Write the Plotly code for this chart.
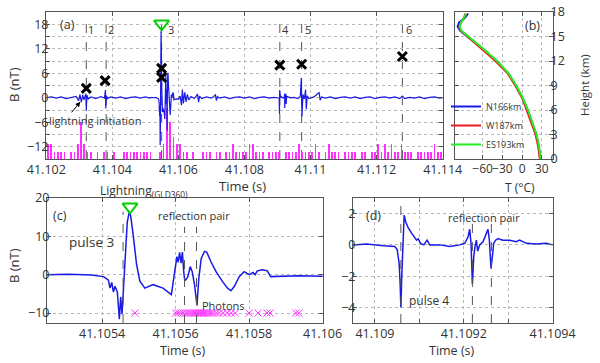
import plotly.graph_objects as go

# ---------------- data ----------------
# panel (a) waveform pieces (time s, B nT)
segA_t = [41.10200, 41.10215, 41.10230, 41.10245, 41.10260, 41.10275, 41.10290, 41.10298, 41.10302, 41.10306,
          41.10310, 41.10314, 41.10317, 41.10320, 41.10321, 41.10323, 41.10327, 41.10335, 41.10350, 41.10365,
          41.10376, 41.10379, 41.10380, 41.10382, 41.10385, 41.10395, 41.10410, 41.10425, 41.10440, 41.10455,
          41.10470, 41.10485, 41.10500, 41.10512, 41.10520]
segA_b = [0.0, 0.2, -0.1, 0.2, -0.2, 0.1, 0.3, -0.7, 0.8, -1.1,
          0.7, -0.5, 0.4, 1.0, -3.2, 0.6, -0.3, 0.2, -0.2, 0.3,
          -0.1, 1.9, -2.6, 0.5, -0.2, 0.2, -0.1, 0.2, -0.2, 0.1,
          0.2, -0.1, 0.2, -0.1, 0.1]

# panel (c) waveform (pulse 3)
c_t = [41.10525, 41.10531, 41.10537, 41.105395, 41.105404, 41.105417, 41.1054216, 41.1054262, 41.1054305, 41.1054351,
       41.1054414, 41.1054468, 41.1054505, 41.1054541, 41.1054576, 41.1054622, 41.1054684, 41.1054738, 41.1054776, 41.1054846,
       41.1054938, 41.1055027, 41.1055162, 41.1055386, 41.1055657, 41.1055884, 41.1055973, 41.1056035, 41.1056068, 41.1056108,
       41.1056149, 41.1056184, 41.1056222, 41.1056249, 41.1056289, 41.1056332, 41.1056397, 41.1056451, 41.1056514, 41.1056581,
       41.105663, 41.1056695, 41.1056784, 41.1056846, 41.1056965, 41.10571, 41.1057278, 41.1057414, 41.1057505, 41.1057595,
       41.105773, 41.1057865, 41.1058, 41.1058108, 41.1058162, 41.1058224, 41.1058359, 41.1058495, 41.1058586, 41.105881,
       41.105935, 41.106]
c_b = [0.0, 0.1, -0.1, -0.3, -0.5, -1.4, -3.5, -2.0, -4.5, -3.0,
       -4.5, -11.6, -5.8, -10.3, -4.5, 4.3, 13.7, 16.3, 15.4, 10.3,
       2.6, -1.7, -3.5, -2.6, -3.5, -5.2, 0.9, 4.7, 3.2, 5.8,
       3.0, 5.9, 0.5, -1.6, -1.2, -0.5, 2.1, 0.8, -2.6, -8.0,
       -1.1, 4.2, 6.1, 5.9, 3.3, 0.8, -1.8, -3.5, -4.2, -3.1,
       -0.5, 0.8, 0.0, 0.6, 0.0, 1.0, 1.3, 1.0, -0.5, -0.4,
       -0.3, -0.4]

segB_t = [41.10605, 41.10609, 41.10612, 41.10615, 41.10619, 41.10623, 41.10627, 41.10631, 41.10638, 41.10648,
          41.10658, 41.10661, 41.10664, 41.10670, 41.10685, 41.10700, 41.10712, 41.10715, 41.10718, 41.10724,
          41.10740, 41.10755, 41.10770, 41.10785, 41.10800, 41.10815, 41.10830, 41.10845, 41.10860, 41.10875,
          41.10888]
segB_b = [0.4, -1.8, 2.0, -1.4, 1.3, -1.0, 0.8, -0.5, 0.3, -0.2,
          0.9, -1.1, 0.4, -0.2, 0.2, -0.1, 0.7, -0.7, 0.3, -0.1,
          0.2, -0.2, 0.1, 0.2, -0.1, 0.2, -0.2, 0.1, 0.2, -0.1,
          0.1]

# panel (d) waveform (pulse 4)
d_t = [41.1089506, 41.1089813, 41.1090187, 41.1090449, 41.1090501, 41.1090546, 41.1090568, 41.1090584, 41.1090607, 41.1090629,
       41.1090658, 41.109069, 41.1090748, 41.1090825, 41.1090899, 41.1090937, 41.1090973, 41.1091027, 41.1091101, 41.1091175,
       41.1091236, 41.1091461, 41.1091685, 41.109191, 41.1092022, 41.1092096, 41.1092135, 41.1092164, 41.1092195, 41.1092225,
       41.1092254, 41.1092285, 41.1092314, 41.1092359, 41.1092434, 41.109251, 41.1092546, 41.1092577, 41.1092613, 41.1092645,
       41.1092674, 41.1092719, 41.1092771, 41.1092883, 41.1093033, 41.1093184, 41.1093258, 41.1093409, 41.1093633, 41.1093858,
       41.1094]
d_b = [0.0, 0.06, -0.06, -0.1, -0.3, -1.2, -2.5, -4.0, -1.8, 0.5,
       1.9, 1.5, 1.1, 0.75, 0.5, 0.3, 0.4, 0.1, 0.0, 0.3,
       0.0, 0.0, -0.1, 0.0, 0.1, 0.5, 1.0, 0.1, -2.5, -0.75,
       -0.1, 0.3, -0.4, 0.0, 0.2, 0.75, 1.0, 0.3, -1.5, -0.75,
       0.1, 0.3, 0.4, 0.3, 0.3, 0.2, 0.3, 0.1, 0.05, 0.1,
       0.0]

segC_t = [41.10950, 41.10962, 41.10969, 41.10972, 41.10974, 41.10977, 41.10981, 41.10985, 41.10987, 41.10990,
          41.10995, 41.11010, 41.11026, 41.11029, 41.11033, 41.11045, 41.11060, 41.11075, 41.11090, 41.11105,
          41.11120, 41.11135, 41.11150, 41.11165, 41.11180, 41.11195, 41.11210, 41.11225, 41.11240, 41.11255,
          41.11270, 41.11278, 41.11285, 41.11300, 41.11315, 41.11330, 41.11345, 41.11360, 41.11375, 41.11390,
          41.11400]
segC_b = [0.1, -0.2, 0.4, 4.8, -4.6, 0.8, -0.3, 2.0, -2.8, 0.5,
          -0.2, 0.2, 1.3, -0.6, 0.2, -0.1, 0.2, -0.2, 0.1, 0.2,
          -0.1, 0.2, -0.2, 0.1, 0.2, -0.2, 0.1, 0.2, -0.1, 0.2,
          -0.2, 0.4, -0.2, 0.1, -0.1, 0.2, -0.2, 0.1, 0.2, -0.1,
          0.0]

# photon counts in 0.1 ms bins from 41.102 s (panel a)
photon_bin_start = 41.102
photon_bin_width = 0.0001
photon_counts = [2, 2, 1, 1, 1, 1, 0, 1, 1, 2,
                 5, 2, 1, 1, 0, 1, 0, 1, 1, 0,
                 1, 0, 0, 1, 1, 1, 1, 1, 1, 1,
                 1, 1, 0, 0, 1, 2, 7, 5, 3, 2,
                 2, 1, 1, 0, 1, 0, 0, 1, 1, 1,
                 0, 1, 1, 0, 1, 1, 2, 1, 1, 1,
                 1, 2, 2, 1, 1, 1, 0, 1, 1, 1,
                 1, 0, 1, 1, 1, 1, 2, 1, 1, 1,
                 1, 2, 1, 0, 1, 2, 1, 1, 1, 0,
                 1, 1, 1, 1, 0, 1, 1, 0, 1, 1,
                 2, 1, 2, 1, 2, 1, 1, 2, 1, 1,
                 1, 0, 1, 1, 1, 1, 1, 2, 1, 1]

# pulses (panel a)
pulse_times = [41.10321, 41.10381, 41.10549, 41.10907, 41.10973, 41.11278]
pulse_labels = ["1", "2", "3", "4", "5", "6"]
xmark_t = [41.10321, 41.10378, 41.10549, 41.10549, 41.10907, 41.10973, 41.11278]
xmark_b = [2.3, 4.2, 7.2, 5.0, 8.0, 8.2, 10.1]
gld_a_t, gld_a_b = [41.10549], [18.1]

# panel (c) extras
gld_c_t, gld_c_b = [41.105476], [17.7]
lightning_c_t = 41.105457
reflect_c_t = [41.1056243, 41.1056568]
photon_c_t = [41.1054892, 41.1056, 41.1056068, 41.1056135, 41.1056203, 41.105627, 41.1056324, 41.1056378,
              41.1056432, 41.1056486, 41.1056527, 41.1056568, 41.1056608, 41.1056649, 41.1056689, 41.105673,
              41.105677, 41.1056811, 41.1056865, 41.1056919, 41.1056973, 41.1057027, 41.1057108, 41.1057189,
              41.1057297, 41.1057405, 41.1057514, 41.1057622, 41.1058, 41.1058243, 41.1058486, 41.1058568,
              41.105927, 41.1059351]
photon_c_level = -10

# panel (d) extras
pulse4_t = 41.1090584
reflect_d_t = [41.1092195, 41.1092622]

# panel (b) temperature profiles
temp_h = [0, 1.5, 3, 4.5, 6, 7.5, 9, 10.5, 12, 13.5, 14.5, 15.2, 15.7, 16.2, 16.7, 17.2, 17.8]
t_n166 = [27.5, 25.5, 21.5, 15, 8.5, 0.5, -9.5, -21, -39, -60, -75, -86, -94, -98, -96, -88, -82]
t_w187 = [27, 24.5, 20.5, 14, 7.5, 0, -10.5, -22, -40.5, -61.5, -76, -87, -93, -95.5, -93, -89, -86]
t_es193 = [28, 26, 22, 15.5, 9, 1, -9, -20.5, -38, -59, -74, -85, -92, -95, -93, -89, -85]

# ticks
a_xticks = [41.102, 41.104, 41.106, 41.108, 41.110, 41.112, 41.114]
a_xlabels = ["41.102", "41.104", "41.106", "41.108", "41.11", "41.112", "41.114"]
a_yticks = [-12, -6, 0, 6, 12, 18]
a_ylabels = ["\u221212", "\u22126", "0", "6", "12", "18"]
a_yminor = [-9, -3, 3, 9, 15]
b_xticks = [-60, -30, 0, 30]
b_xlabels = ["\u221260", "\u221230", "0", "30"]
b_yticks = [0, 3, 6, 9, 12, 15, 18]
c_xticks = [41.1054, 41.1056, 41.1058, 41.106]
c_xlabels = ["41.1054", "41.1056", "41.1058", "41.106"]
c_yticks = [-10, 0, 10, 20]
c_ylabels = ["\u221210", "0", "10", "20"]
d_xticks = [41.109, 41.1092, 41.1094]
d_xlabels = ["41.109", "41.1092", "41.1094"]
d_xminor = [41.1091, 41.1093]
d_yticks = [-4, -2, 0, 2]
d_ylabels = ["\u22124", "\u22122", "0", "2"]

# ---------------- figure ----------------
W, H = 600, 363
def PX(x):
    return x / W
def PY(y):
    return 1 - y / H

FONT = "Open Sans"
TXT = "#333333"
BLUE = "#1a1ae6"
MAG = "#ff30ff"
GREEN = "#00d000"

fig = go.Figure()

# (a) photons histogram
bin_centers = [photon_bin_start + (i + 0.5) * photon_bin_width for i in range(len(photon_counts))]
stem_scale = 1.8
fig.add_trace(go.Bar(x=bin_centers, y=[c * stem_scale for c in photon_counts], base=-15,
                     width=0.000022, marker=dict(color=MAG, line=dict(width=0)),
                     xaxis="x", yaxis="y", showlegend=False, hoverinfo="skip"))
a_t = segA_t + c_t + segB_t + d_t + segC_t
a_b = segA_b + c_b + segB_b + d_b + segC_b
fig.add_trace(go.Scatter(x=a_t, y=a_b, mode="lines", line=dict(color=BLUE, width=1.2),
                         xaxis="x", yaxis="y", showlegend=False))
fig.add_trace(go.Scatter(x=xmark_t, y=xmark_b, mode="markers",
                         marker=dict(symbol="x-thin", size=9, line=dict(width=3, color="black")),
                         xaxis="x", yaxis="y", showlegend=False))
fig.add_trace(go.Scatter(x=gld_a_t, y=gld_a_b, mode="markers",
                         marker=dict(symbol="triangle-down-open", size=13, color=GREEN, line=dict(width=2, color=GREEN)),
                         xaxis="x", yaxis="y", showlegend=False))

# (b) temperature
for name, temps, col in [("N166km", t_n166, "#1a1ae6"), ("W187km", t_w187, "#ee1c1c"), ("ES193km", t_es193, "#22ee22")]:
    fig.add_trace(go.Scatter(x=temps, y=temp_h, mode="lines", name=name, line=dict(color=col, width=2),
                             xaxis="x2", yaxis="y2", showlegend=True))

# (c)
fig.add_trace(go.Scatter(x=photon_c_t, y=[photon_c_level] * len(photon_c_t), mode="markers",
                         marker=dict(symbol="x-thin", size=7, line=dict(width=1, color=MAG)),
                         xaxis="x3", yaxis="y3", showlegend=False))
fig.add_trace(go.Scatter(x=c_t, y=c_b, mode="lines", line=dict(color=BLUE, width=1.5),
                         xaxis="x3", yaxis="y3", showlegend=False))
fig.add_trace(go.Scatter(x=gld_c_t, y=gld_c_b, mode="markers",
                         marker=dict(symbol="triangle-down-open", size=13, color=GREEN, line=dict(width=2, color=GREEN)),
                         xaxis="x3", yaxis="y3", showlegend=False))

# (d)
fig.add_trace(go.Scatter(x=d_t, y=d_b, mode="lines", line=dict(color=BLUE, width=1.5),
                         xaxis="x4", yaxis="y4", showlegend=False))

shapes = []
dash_line = dict(color="#555555", width=1, dash="dash")
for t in pulse_times:
    shapes.append(dict(type="line", xref="x", yref="y domain", x0=t, x1=t, y0=0, y1=0.97, line=dash_line, layer="below"))
shapes.append(dict(type="line", xref="x3", yref="y3", x0=lightning_c_t, x1=lightning_c_t, y0=-12.6, y1=16.5, line=dash_line))
for t in reflect_c_t:
    shapes.append(dict(type="line", xref="x3", yref="y3", x0=t, x1=t, y0=-12.6, y1=12.5, line=dash_line))
shapes.append(dict(type="line", xref="x4", yref="y4", x0=pulse4_t, x1=pulse4_t, y0=-5, y1=3, line=dash_line))
for t in reflect_d_t:
    shapes.append(dict(type="line", xref="x4", yref="y4", x0=t, x1=t, y0=-5, y1=1.5, line=dash_line))

def ann(text, x, y, size=12, angle=0, xanchor="center", color=TXT):
    return dict(text=text, x=PX(x), y=PY(y), xref="paper", yref="paper", showarrow=False,
                font=dict(family=FONT, size=size, color=color), textangle=angle,
                xanchor=xanchor, yanchor="middle")

annotations = [
    ann("(a)", 67, 24, 12.5),
    ann("lightning initiation", 47, 121, 11, xanchor="left"),
    ann("Time (s)", 242, 186, 13),
    ann("B (nT)", 14, 85, 13, angle=-90),
    ann("(b)", 532, 25, 12.5),
    ann("Height (km)", 584, 85, 11.5, angle=-90),
    ann("T (\u00b0C)", 520, 187, 12),
    ann("(c)", 60, 215, 12.5),
    ann("pulse 3", 91, 242, 13.5),
    ann("reflection pair", 194, 215, 11),
    ann("Photons", 223, 305, 11),
    ann("Lightning<sub>(GLD360)</sub>", 144, 191, 12),
    ann("Time (s)", 183, 350, 12.5),
    ann("B (nT)", 14, 266, 13, angle=-90),
    ann("(d)", 373, 215, 12.5),
    ann("reflection pair", 484, 217, 11),
    ann("pulse 4", 429, 300, 12),
    ann("Time (s)", 452, 350, 12.5),
]
label_px = [91, 111, 171, 285, 308, 409]
for lab, xp in zip(pulse_labels, label_px):
    annotations.append(ann(lab, xp, 29, 11))
# arrow for lightning initiation
annotations.append(dict(x=41.10303, y=-1.0, xref="x", yref="y", ax=-10, ay=12, text="",
                        showarrow=True, arrowhead=2, arrowsize=1, arrowwidth=1, arrowcolor="black"))

grid_kw = dict(showgrid=True, gridcolor="#b8b8b8", griddash="dot", gridwidth=1)
axis_common = dict(showline=True, linecolor="#555555", linewidth=1, mirror="ticks", ticks="inside",
                   ticklen=4, tickcolor="#555555", zeroline=False, automargin=False, tickangle=0,
                   tickfont=dict(family=FONT, size=12.5, color=TXT), **grid_kw)
xstand = -1
ystand = -6

fig.update_layout(
    template="none",
    width=W, height=H, margin=dict(l=0, r=0, t=0, b=0),
    paper_bgcolor="white", plot_bgcolor="white",
    xaxis=dict(axis_common, domain=[PX(46), PX(443)], range=[41.10199, 41.11401], anchor="y",
               tickmode="array", tickvals=a_xticks, ticktext=a_xlabels, ticklabelstandoff=xstand),
    yaxis=dict(axis_common, domain=[PY(159), PY(12)], range=[-15, 21], anchor="x",
               tickmode="array", tickvals=a_yticks, ticktext=a_ylabels, ticklabelstandoff=ystand,
               minor=dict(tickvals=a_yminor, ticks="inside", ticklen=4, tickcolor="#555555", **grid_kw)),
    xaxis2=dict(axis_common, domain=[PX(455), PX(553)], range=[-102, 47], anchor="y2",
                tickmode="array", tickvals=b_xticks, ticktext=b_xlabels, ticklabelstandoff=xstand,
                tickfont=dict(family=FONT, size=12, color=TXT)),
    yaxis2=dict(axis_common, domain=[PY(159), PY(12)], range=[0, 18], anchor="x2", side="right",
                tickmode="array", tickvals=b_yticks, ticklabelstandoff=ystand),
    xaxis3=dict(axis_common, domain=[PX(47), PX(323)], range=[41.10525, 41.106001], anchor="y3",
                tickmode="array", tickvals=c_xticks, ticktext=c_xlabels, ticklabelstandoff=xstand),
    yaxis3=dict(axis_common, domain=[PY(323), PY(198)], range=[-12.6, 20.01], anchor="x3",
                tickmode="array", tickvals=c_yticks, ticktext=c_ylabels, ticklabelstandoff=ystand),
    xaxis4=dict(axis_common, domain=[PX(353), PX(553)], range=[41.1089506, 41.109401], anchor="y4",
                tickmode="array", tickvals=d_xticks, ticktext=d_xlabels, ticklabelstandoff=xstand,
                minor=dict(tickvals=d_xminor, ticks="inside", ticklen=4, tickcolor="#555555", **grid_kw)),
    yaxis4=dict(axis_common, domain=[PY(323), PY(198)], range=[-5, 3], anchor="x4",
                tickmode="array", tickvals=d_yticks, ticktext=d_ylabels, ticklabelstandoff=ystand),
    shapes=shapes, annotations=annotations,
    legend=dict(x=PX(446), y=PY(92), xanchor="left", yanchor="top", bgcolor="rgba(0,0,0,0)",
                font=dict(family=FONT, size=9, color=TXT), tracegroupgap=0, itemwidth=30),
    bargap=0, barmode="overlay", showlegend=True,
)

fig.write_html("out.html", config={"displayModeBar": False},
               post_script="document.body.style.margin='0px';document.body.style.overflow='hidden';")
